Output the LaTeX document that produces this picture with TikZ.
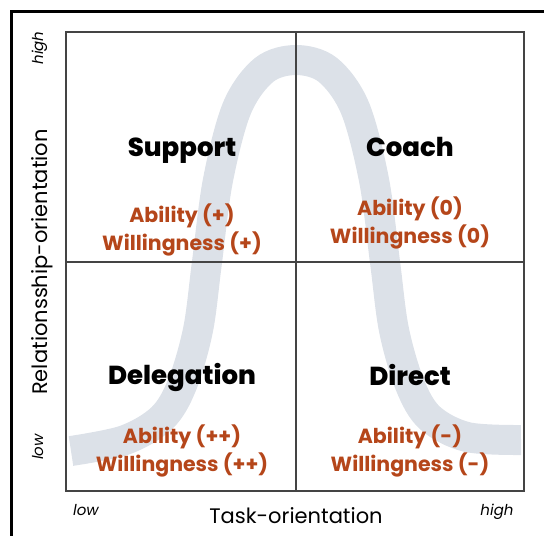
\documentclass[tikz,border=0pt]{standalone}
\usepackage{fontspec}
\setmainfont{Poppins}
\newfontface\heavy{Poppins ExtraBold}
\usepackage{tikz}
\definecolor{rust}{HTML}{B5461A}
\definecolor{band}{HTML}{DCE1E8}
\definecolor{gridgray}{HTML}{444444}

\begin{document}
\begin{tikzpicture}
	[x=1pt, y=-1pt,
	 title/.style = {anchor=base, font=\heavy\fontsize{26}{30}\selectfont},
	 trait/.style = {anchor=base, text=rust, font=\bfseries\fontsize{20.5}{24}\selectfont},
	 axis/.style = {anchor=base, font=\fontsize{21}{25}\selectfont},
	 tick/.style = {anchor=base, font=\itshape\fontsize{15}{18}\selectfont}]
	\useasboundingbox (0,0) rectangle (544,536);
	% frame
	\draw[line width=3.5pt] (544,11.5) -- (11.5,11.5) -- (11.5,536);
	% curve
	\draw[band, line width=30pt] plot[smooth, tension=0.55] coordinates {(71,451) (125,440) (162,418) (182,385) (198,330) (207,262) (218,180) (237,108) (264,70) (296,60) (328,70) (355,108) (374,180) (385,262) (394,330) (410,385) (430,418) (467,437) (521,440)};
	% grid
	\coordinate (nw) at (66,32);
	\coordinate (se) at (524,491);
	\coordinate (n) at (296,32);
	\coordinate (s) at (296,491);
	\coordinate (w) at (66,262);
	\coordinate (e) at (524,262);
	\draw[gridgray, line width=1.3pt] (nw) rectangle (se);
	\draw[gridgray, line width=1.3pt] (n) -- (s);
	\draw[gridgray, line width=1.3pt] (w) -- (e);
	% quadrants
	\node[title] (sup) at (182,156) {Support};
	\node[trait] (supa) at (182,222) {Ability (+)};
	\node[trait] (supw) at (182,250) {Willingness (+)};
	\node[title] (coa) at (410,156) {Coach};
	\node[trait] (coaa) at (410,215) {Ability (0)};
	\node[trait] (coaw) at (410,243) {Willingness (0)};
	\node[title] (del) at (182,384) {Delegation};
	\node[trait] (dela) at (182,443) {Ability (++)};
	\node[trait] (delw) at (182,471) {Willingness (++)};
	\node[title] (dir) at (410,385) {Direct};
	\node[trait] (dira) at (410,443) {Ability (-)};
	\node[trait] (dirw) at (410,471) {Willingness (-)};
	% axes
	\node[axis] (task) at (296,523) {Task-orientation};
	\node[tick] (tlow) at (86,515) {low};
	\node[tick] (thigh) at (497,515) {high};
	\node[axis, rotate=90] (rel) at (47,262) {Relationsship-orientation};
	\node[tick, rotate=90] (rlow) at (43,447) {low};
	\node[tick, rotate=90] (rhigh) at (43,48) {high};
\end{tikzpicture}
\end{document}
